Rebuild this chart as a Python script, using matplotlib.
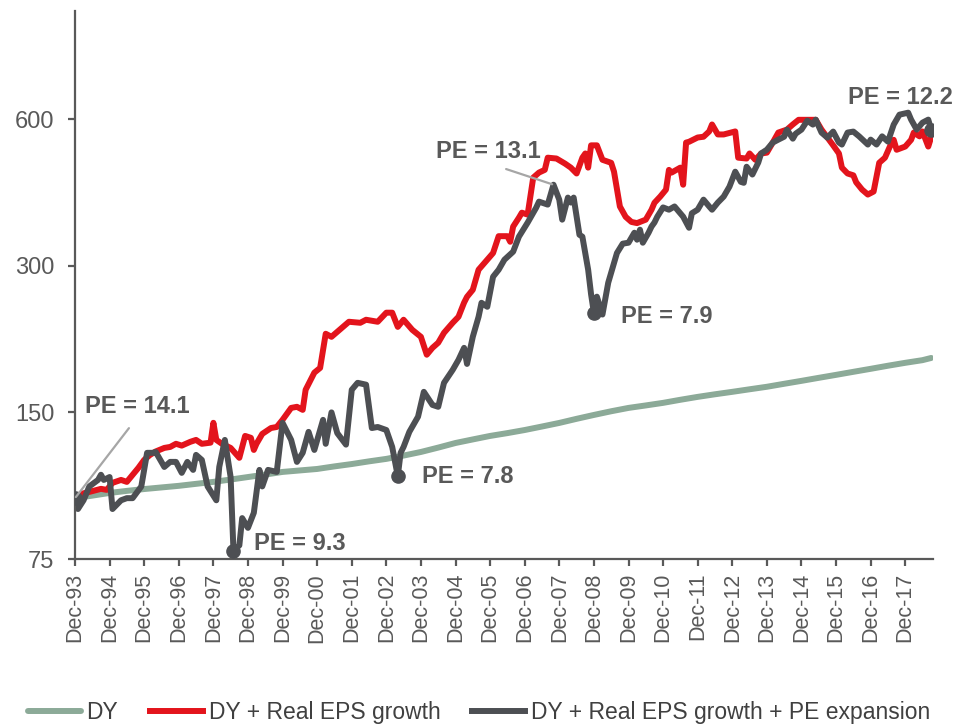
import pandas as pd
from matplotlib import pyplot as plt
from matplotlib.ticker import FixedLocator, NullLocator

plt.rcParams['font.family'] = ['Liberation Sans', 'DejaVu Sans']

# Index levels (Dec-93 = 100), month offsets counted from Dec-93
START = pd.Timestamp('1993-12-01')

dy_months = [0, 6, 12, 18, 24, 30, 36, 42, 48, 54, 60, 66, 72, 78, 84, 90, 96,
             102, 108, 114, 120, 126, 132, 138, 144, 150, 156, 162, 168, 174,
             180, 186, 192, 198, 204, 210, 216, 222, 228, 234, 240, 246, 252,
             258, 264, 270, 276, 282, 288, 294, 297]
dy_values = [100, 101.2, 102.5, 103.5, 104.4, 105.2, 106, 107, 108, 109.2,
             110.5, 111.8, 113.2, 114, 114.8, 116.2, 117.5, 119, 120.4, 122.3,
             124.4, 127, 129.8, 132, 134.2, 136, 138, 140.3, 142.7, 145.5,
             148.2, 150.8, 153.2, 155, 156.9, 159.2, 161.4, 163.4, 165.3, 167.3,
             169.3, 171.7, 174.1, 176.6, 179.1, 181.7, 184.3, 187, 189.6, 192,
             194]

eps_months = [0, 2, 5, 9, 11, 13, 16, 18, 20, 22, 24, 26, 28, 31, 33, 35, 37,
              40, 42, 44, 47, 48, 49, 51, 54, 57, 59, 61, 62, 63, 65, 68, 70,
              72, 75, 77, 79, 80, 83, 85, 87, 89, 95, 99, 101, 105, 108, 110,
              112, 114, 117, 120, 122, 124, 126, 128, 131, 133, 135, 136, 138,
              140, 143, 145, 147, 150, 151, 152, 154, 155, 157, 159, 161, 163,
              164, 167, 170, 172, 174, 176, 177, 178, 179, 181, 183, 186, 187,
              189, 191, 193, 195, 198, 200, 201, 203, 205, 206, 207, 210, 211,
              212, 213, 216, 218, 220, 221, 223, 225, 229, 230, 233, 234, 236,
              238, 240, 242, 244, 247, 249, 251, 253, 257, 259, 263, 265, 266,
              268, 270, 271, 273, 275, 277, 279, 281, 283, 284, 285, 288, 290,
              291, 293, 294, 296, 297]
eps_values = [100, 102, 103, 104.5, 104, 107.5, 109, 108, 111.6, 115.4, 119.8,
              122.7, 124.7, 126.8, 127.4, 129.3, 128.2, 130.5, 131.7, 129.3,
              130, 142.8, 131.7, 129.3, 126.8, 121, 134.2, 133, 125.6, 129.3,
              135.5, 139.3, 140, 144.8, 153.2, 154, 151.8, 166.9, 181, 185.1,
              217.5, 214.4, 230.2, 229.1, 232.4, 230.2, 240.3, 240.3, 224.7,
              232.4, 221.6, 214.4, 197, 203.5, 208.5, 218.5, 229.1, 235.7, 252,
              259, 267.8, 294.4, 308.7, 318.6, 345, 345, 336, 361, 376.5, 385.5,
              382, 455, 466, 472, 500, 498, 486, 477, 464, 500, 510, 477, 530,
              530, 495, 488, 468, 397, 378, 369, 367, 373, 391, 404, 416, 430,
              472, 466, 477, 440, 537, 539, 550, 552, 566, 585, 558, 558, 566,
              500, 498, 510, 495, 510, 512, 537, 563, 571, 585, 598, 598, 598,
              571, 530, 510, 477, 464, 460, 445, 430, 420, 426, 488, 500, 532,
              544, 519, 527, 544, 563, 553, 566, 527, 551]

pe_months_all = [0, 1, 3, 5, 8, 9, 10, 12, 13, 16, 18, 20, 23, 25, 27, 28, 31,
                 33, 35, 37, 39, 41, 42, 44, 46, 49, 50, 52, 54, 55, 57, 58, 60,
                 62, 64, 65, 67, 70, 72, 75, 77, 79, 81, 83, 86, 87, 89, 91, 94,
                 96, 98, 101, 103, 105, 108, 110, 112, 113, 114, 116, 119, 121,
                 124, 126, 128, 131, 133, 135, 136, 138, 140, 141, 143, 145,
                 147, 149, 152, 154, 157, 160, 161, 164, 166, 168, 169, 171,
                 172, 173, 175, 176, 178, 179, 180, 181, 183, 185, 186, 187,
                 188, 190, 192, 194, 195, 196, 197, 199, 200, 201, 202, 204,
                 206, 208, 210, 211, 213, 214, 216, 218, 220, 221, 223, 225,
                 227, 229, 231, 232, 233, 235, 237, 238, 240, 242, 244, 246,
                 247, 249, 250, 252, 254, 256, 257, 259, 261, 263, 265, 266,
                 268, 270, 272, 275, 276, 278, 280, 282, 284, 286, 289, 290,
                 292, 294, 296, 297]
pe_values_all = [100, 95, 99, 105.7, 109, 111.7, 109, 110.5, 95, 99, 100, 100,
                 105.7, 123.9, 123.9, 124.4, 115.9, 118.7, 118.7, 112.7, 118.7,
                 114.3, 122.7, 119.8, 105.7, 99, 115.9, 131.7, 110.5, 78, 80,
                 91, 86.9, 93.3, 114.3, 105.7, 114.3, 113.2, 142.8, 131.7,
                 118.7, 123.9, 136.8, 125.6, 144.8, 129.3, 150, 136, 128.8,
                 166.9, 172.5, 171, 139.3, 140, 138, 127.4, 111, 123.9, 127.4,
                 136.8, 147, 165.3, 155.4, 154, 172.5, 183.4, 192.3, 203.5,
                 188.6, 214.4, 235.7, 251.8, 247.1, 284.8, 294.4, 308.7, 320.6,
                 344.2, 367.8, 394.7, 406.2, 400.5, 440, 410, 373, 414, 404.4,
                 414, 347.3, 344.2, 294.4, 262, 240, 259.2, 238.2, 276.9, 290.2,
                 303.9, 318.6, 333, 334.5, 350.7, 339.3, 355.7, 334.5, 350.7,
                 361, 368, 378.3, 395.2, 391, 397, 384.5, 378.3, 359, 384.5, 391,
                 410, 397, 391, 404.4, 416, 436, 468, 446, 444, 479, 461.7,
                 488.5, 510, 519.3, 537, 544.5, 552, 570.9, 547, 560, 570.9,
                 595.7, 584.6, 598.5, 563, 549.6, 565.6, 537, 532, 563, 565.6,
                 553, 532, 544.5, 532, 553, 539.4, 584.6, 612.7, 618.5, 598.5,
                 570.9, 590, 598.5, 570.9]

# PE multiples called out on the full-return line
pe_note_months = [0, 55, 112, 166, 180, 297]
pe_note_values = ['14.1', '9.3', '7.8', '13.1', '7.9', '12.2']

y_ticks = [75, 150, 300, 600]

GREEN = '#8caa98'
RED = '#e3141c'
DARK = '#4d4f53'
GREY = '#595959'


def month_dates(months):
    return [START + pd.DateOffset(months=m) for m in months]


def plot_returns():
    fig = plt.figure(figsize=(9.58, 7.26), dpi=100)
    ax = fig.add_axes([0.0783, 0.2300, 0.8956, 0.7548])

    ax.plot(month_dates(dy_months), dy_values, color=GREEN, lw=4.3,
            solid_capstyle='round', label='DY')
    ax.plot(month_dates(eps_months), eps_values, color=RED, lw=4.3,
            solid_joinstyle='round', label='DY + Real EPS growth')
    pe_dates = month_dates(pe_months_all)
    ax.plot(pe_dates, pe_values_all, color=DARK, lw=4.3,
            solid_joinstyle='round',
            label='DY + Real EPS growth + PE expansion')

    # Call-outs: offset of the text from the point, in pixels
    offsets = [(62, 92), (66, 7), (70, 0), (-65, 33), (73, -4), (-31, 32)]
    leader = [True, False, False, True, False, False]
    for m, pe, off, line in zip(pe_note_months, pe_note_values, offsets, leader):
        i = pe_months_all.index(m)
        xy = (pe_dates[i], pe_values_all[i])
        if not line or m == 0:
            ax.plot(*xy, 'o', color=DARK, ms=9.5, zorder=5)
        props = None
        if line:
            props = dict(arrowstyle='-', color='#a6a6a6', lw=1.6,
                         relpos=(0.5, 0), shrinkA=7, shrinkB=1)
        ax.annotate('PE = ' + pe, xy=xy, xytext=off,
                    textcoords='offset pixels', ha='center', va='center',
                    fontsize=17, fontweight='bold', color=GREY,
                    arrowprops=props, zorder=6)

    ax.set_yscale('log', base=2)
    ax.set_ylim(75, 1000)
    ax.yaxis.set_major_locator(FixedLocator(y_ticks))
    ax.yaxis.set_minor_locator(NullLocator())
    ax.set_yticklabels([str(v) for v in y_ticks])

    x_ticks = [pd.Timestamp(year, 12, 1) for year in range(1993, 2018)]
    ax.set_xticks(x_ticks)
    ax.set_xticklabels([d.strftime('%b-%y') for d in x_ticks], rotation=90)
    ax.xaxis.set_minor_locator(NullLocator())
    ax.set_xlim(START, pd.Timestamp('2018-09-20'))

    for side in ['top', 'right']:
        ax.spines[side].set_visible(False)
    for side in ['left', 'bottom']:
        ax.spines[side].set_color(GREY)
        ax.spines[side].set_linewidth(1.6)
    ax.tick_params(axis='y', colors=GREY, labelsize=17, length=5, width=1.6,
                   pad=10)
    ax.tick_params(axis='x', colors=GREY, labelsize=15.5, length=5, width=1.6,
                   pad=5)

    fig.legend(loc='center', bbox_to_anchor=(0.5, 0.019), ncol=3,
               frameon=False, fontsize=16.5, handlelength=2.3,
               handletextpad=0.25, columnspacing=1.4, labelcolor='#404040')

    fig.savefig('out.png', dpi=100)


if __name__ == '__main__':
    plot_returns()
